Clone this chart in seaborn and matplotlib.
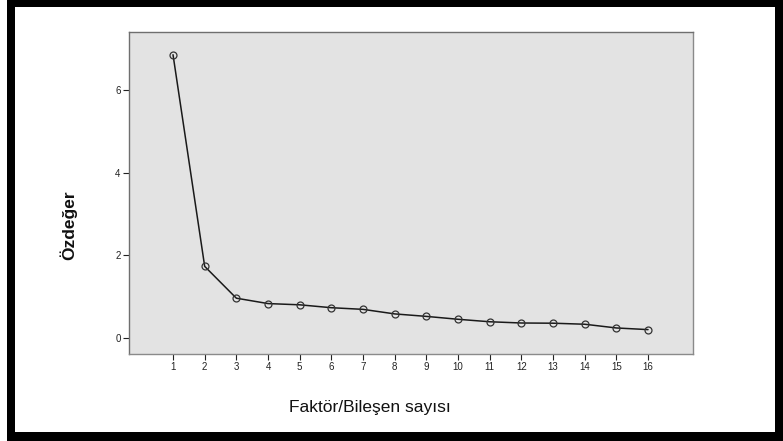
import matplotlib
matplotlib.use("Agg")
import matplotlib.pyplot as plt
import seaborn as sns
import pandas as pd
from matplotlib.patches import Rectangle

factors = list(range(1, 17))
eigenvalues = [6.85, 1.73, 0.96, 0.83, 0.80, 0.73, 0.69, 0.58, 0.52, 0.45,
               0.39, 0.36, 0.355, 0.33, 0.24, 0.20]
y_ticks = [0, 2, 4, 6]
x_label = "Faktör/Bileşen sayısı"
y_label = "Özdeğer"

sns.set_style("white")
plt.rcParams['font.family'] = ['Liberation Sans', 'DejaVu Sans']

df = pd.DataFrame({"factor": factors, "eig": eigenvalues})

fig = plt.figure(figsize=(7.83, 4.41), dpi=100)
fig.patch.set_facecolor("white")

# black outer frame
W, H = 783, 441
frame_kw = dict(transform=fig.transFigure, color="black", zorder=10, lw=0)
fig.patches.append(Rectangle((7 / W, 0), 8 / W, 1, **frame_kw))
fig.patches.append(Rectangle((7 / W, 1 - 7 / H), 1, 7 / H, **frame_kw))
fig.patches.append(Rectangle((775 / W, 0), 8 / W, 1, **frame_kw))
fig.patches.append(Rectangle((7 / W, 0), 1, 9 / H, **frame_kw))

ax = fig.add_axes([129 / W, 1 - 354 / H, 564 / W, 322 / H])
ax.set_facecolor("#e3e3e3")

sns.lineplot(data=df, x="factor", y="eig", ax=ax, color="#1a1a1a", lw=1.1,
             marker="o", markersize=5, markerfacecolor="none",
             markeredgecolor="#333333", markeredgewidth=0.9)

ax.set_xlim(-0.39, 17.42)
ax.set_ylim(-0.39, 7.40)
ax.set_xticks(factors)
ax.set_xticklabels([str(f) for f in factors])
ax.set_yticks(y_ticks)
ax.set_yticklabels([str(t) for t in y_ticks])
ax.tick_params(axis="both", direction="out", length=4, width=0.8,
               labelsize=7, colors="#222222", pad=2, left=True, bottom=True)

for side, sp in ax.spines.items():
    sp.set_visible(True)
    sp.set_linewidth(1.0)
    sp.set_color("#6f6f6f" if side in ("top", "left") else "#8a8a8a")

ax.set_xlabel(x_label, fontsize=12.5, color="#111111")
ax.xaxis.set_label_coords(0.427, -0.143)
ax.set_ylabel(y_label, fontsize=12.5, fontweight="bold", color="#111111")
ax.yaxis.set_label_coords(-0.092, 0.40)

fig.savefig("out.png", dpi=100)
